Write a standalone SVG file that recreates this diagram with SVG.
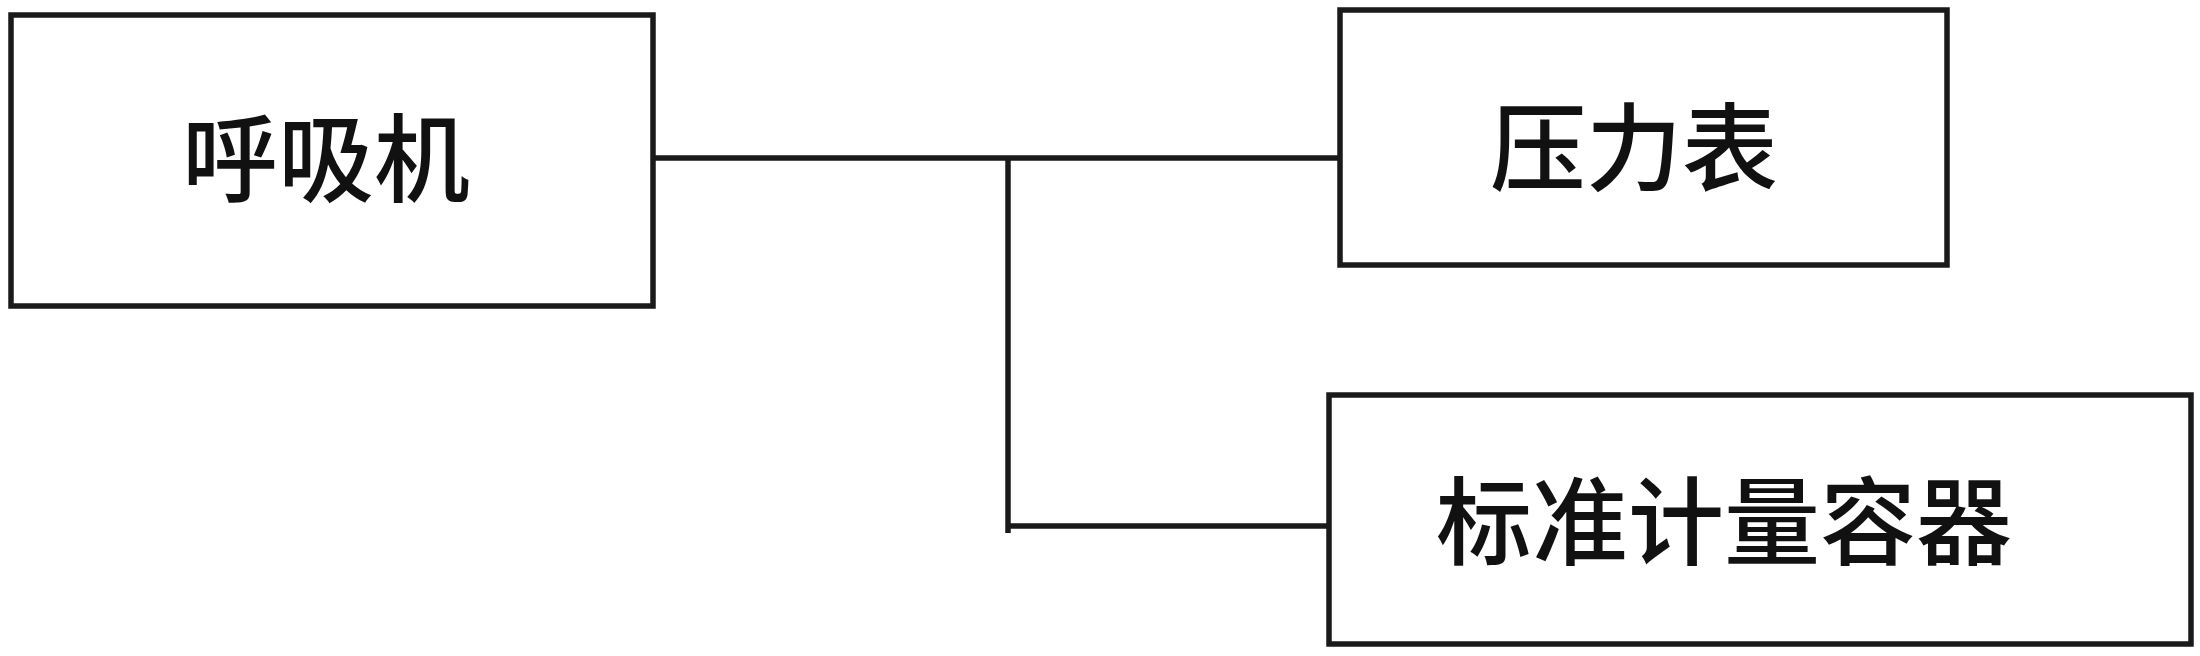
<svg xmlns="http://www.w3.org/2000/svg" width="2200" height="656" viewBox="0 0 2200 656">
<style>
.box{fill:#fff;stroke:#1a1a1a;stroke-width:5.5}
.lbl{font-family:"Noto Sans CJK SC","Microsoft YaHei",sans-serif;font-size:96px;font-weight:500;fill:#111;text-anchor:middle}
.wire{fill:none;stroke:#1a1a1a;stroke-width:5.5;stroke-linecap:butt}
</style>
<rect width="2200" height="656" fill="#fff"/>
<g id="connectors">
<path class="wire" d="M653 158 H1342"/>
<path class="wire" d="M1008 158 V533"/>
<path class="wire" d="M1008 526 H1331"/>
</g>
<g id="node-ventilator">
<rect class="box" x="11" y="15" width="642" height="291"/>
<text class="lbl" x="326" y="194">呼吸机</text>
</g>
<g id="node-gauge">
<rect class="box" x="1340" y="10" width="607" height="255"/>
<text class="lbl" x="1634" y="183">压力表</text>
</g>
<g id="node-container">
<rect class="box" x="1329" y="395" width="862" height="249"/>
<text class="lbl" x="1724" y="557">标准计量容器</text>
</g>
</svg>
